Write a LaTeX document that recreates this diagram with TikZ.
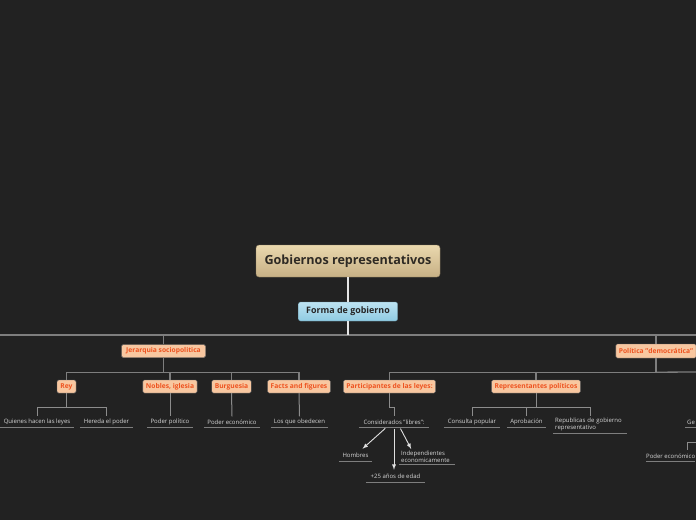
\documentclass[tikz,border=0pt]{standalone}
\usepackage{fontspec}
\setmainfont{Open Sans}
\usepackage{xcolor}
\definecolor{bgdark}{HTML}{222222}
\definecolor{roottop}{HTML}{EAD8AE}
\definecolor{rootbot}{HTML}{C7B085}
\definecolor{rootink}{HTML}{2E2A24}
\definecolor{formatop}{HTML}{BDE3F2}
\definecolor{formabot}{HTML}{8FCBE2}
\definecolor{peach}{HTML}{F8C7A0}
\definecolor{peachink}{HTML}{EE5320}
\definecolor{busgray}{HTML}{7E7E7E}
\definecolor{leafgray}{HTML}{8C8C8C}
\definecolor{leafink}{HTML}{D6D6D6}

\begin{document}
\begin{tikzpicture}
		[x=1pt, y=-1pt,
			root/.style ={rectangle, draw=rootbot!70!black, top color=roottop, bottom color=rootbot, rounded corners=3pt, text=rootink, minimum width=184pt, minimum height=32pt, font=\fontsize{12.6}{14}\selectfont\bfseries},
 forma/.style ={rectangle, draw=formabot!70!black, top color=formatop, bottom color=formabot, rounded corners=2pt, text=black!85, minimum width=99pt, minimum height=19pt, font=\fontsize{8.9}{10}\selectfont\bfseries},
 block/.style ={rectangle, draw=black!60, fill=peach, text=peachink, rounded corners=1.5pt, inner xsep=3pt, inner ysep=0pt, minimum height=13pt, font=\fontsize{6.7}{7.5}\selectfont\bfseries},
 leaf/.style ={rectangle, text=leafink, inner xsep=0pt, inner ysep=0pt, minimum height=11pt, font=\fontsize{6}{6.6}\selectfont,
 append after command={(\tikzlastnode.south west) edge[draw=busgray, line width=1pt] (\tikzlastnode.south east)}},
 leafl/.style ={leaf, align=left, inner xsep=2pt, inner ysep=2pt},
 line/.style ={draw=busgray, line width=1.3pt},
 line1/.style ={draw=leafgray, line width=1pt},
 arr/.style ={draw=white!88!black, line width=0.9pt, -latex, shorten <=1pt}]
		\fill[bgdark] (0,0) rectangle (696,520);
		\useasboundingbox (0,0) rectangle (696,520);
		\clip (0,0) rectangle (696,520);
%		top
		\path 	(348, 261) node[root] (R) {Gobiernos representativos}
			(348, 311.5) node[forma] (F) {Forma de gobierno}
			(163.5, 351) node[block, minimum width=84pt] (J) {Jerarquia sociopolitica}
			(656, 351) node[block, minimum width=80pt, minimum height=14pt] (P) {Política "democrática"};
		\coordinate (W) at (0,335);
		\coordinate (E) at (696,335);
		\coordinate (E2) at (696,372);
		\draw[white!90!black, line width=1.2pt] (R.south) -- (F.north);
		\draw[line] (W) -- (E);
		\draw[line, white!90!black] (F.south) -- ++(0,14);
		\draw[line] (F.south) ++(0,14) -| (J.north);
		\draw[line] (F.south) ++(0,14) -| (P.north);
%		jerarquia
		\path 	(66.5, 386.5) node[block, minimum width=19pt] (Rey) {Rey}
			(170, 386.5) node[block, minimum width=52pt] (N) {Nobles, iglesia}
			(231.5, 386.5) node[block, minimum width=37pt] (B) {Burguesia}
			(299, 386.5) node[block, minimum width=60pt] (Fa) {Facts and figures};
		\foreach \k in {Rey,N,B,Fa}
			\draw[line] (J.south) -- ++(0,14.5) -| (\k.north);
		\path 	(37, 422) node[leaf, minimum width=74pt] (Q) {Quienes hacen las leyes}
			(106.5, 422) node[leaf, minimum width=53pt] (H) {Hereda el poder}
			(170, 422) node[leaf, minimum width=46pt] (PP) {Poder político}
			(232, 422) node[leaf, minimum width=56pt] (PE) {Poder económico}
			(299.5, 422) node[leaf, minimum width=57pt] (LO) {Los que obedecen};
		\draw[line1] (Rey.south) -- ++(0,14) -| (Q.north);
		\draw[line1] (Rey.south) -- ++(0,14) -| (H.north);
		\draw[line1] (N.south) -- (PP.north);
		\draw[line1] (B.south) -- (PE.north);
		\draw[line1] (Fa.south) -- (LO.north);
%		politica
		\path 	(389.5, 386.5) node[block, minimum width=87pt] (Pa) {Participantes de las leyes:}
			(536, 386.5) node[block, minimum width=82pt] (Re) {Representantes políticos};
		\draw[line] (P.south) -- ++(0,14) -| (Pa.north);
		\draw[line] (P.south) -- ++(0,14) -| (Re.north);
		\draw[line] (P.south) ++(0,14) -- (E2);
		\path 	(394, 422) node[leaf, minimum width=70pt] (C) {Considerados "libres":}
			(472, 422) node[leaf, minimum width=56pt] (CP) {Consulta popular}
			(526.5, 422) node[leaf, minimum width=39pt] (A) {Aprobación}
			(553, 416) node[leafl, anchor=north west, text width=70pt] (RG) {Republicas de gobierno\\representativo};
		\draw[line1] (Pa.south) -- ++(0,14) -| (C.north);
		\foreach \k in {CP,A,RG}
			\draw[line1] (Re.south) -- ++(0,14) -| (\k.north);
%		libres
		\path 	(355.5, 455) node[leaf, minimum width=33pt, minimum height=12pt] (Ho) {Hombres}
			(399, 449) node[leafl, anchor=north west, text width=52pt] (In) {Independientes\\economicamente}
			(395.5, 476) node[leaf, minimum width=59pt, minimum height=12pt] (Ed) {+25 años de edad};
		\draw[arr] ([xshift=-8pt]C.south) -- ([xshift=7pt]Ho.north);
		\draw[arr] (C.south) -- (C.south |- Ed.north);
		\draw[arr] ([xshift=6pt]C.south) -- ([xshift=-16pt]In.north);
%		right edge
		\node[leaf, anchor=west, inner xsep=2pt] (G) at (685, 422) {Ge};
		\node[leaf, anchor=west, append after command={}] (PE2) at (646, 456) {Poder económico};
		\coordinate (K1) at (696, 442);
		\coordinate (K2) at (687, 450);
		\draw[line1] (K1) -| (K2);
	\end{tikzpicture}
\end{document}
